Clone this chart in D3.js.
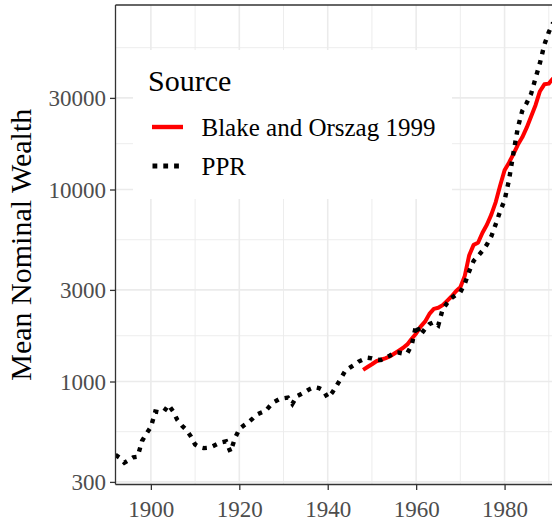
<!DOCTYPE html>
<html>
<head>
<meta charset="utf-8">
<script src="https://cdn.jsdelivr.net/npm/d3@7"></script>
<style>
  body { margin: 0; background: #ffffff; }
  svg { display: block; }
  text { font-family: "Liberation Serif", "DejaVu Serif", serif; }
</style>
</head>
<body>
<svg id="canvas"></svg>
<script>
/***********************************************************************/
// Data

var pprYears = [
  1892, 1893, 1894, 1895, 1896, 1897, 1898, 1899, 1900, 1901,
  1902, 1903, 1904, 1905, 1906, 1907, 1908, 1909, 1910, 1911,
  1912, 1913, 1914, 1915, 1916, 1917, 1918, 1919, 1920, 1921,
  1922, 1923, 1924, 1925, 1926, 1927, 1928, 1929, 1930, 1931,
  1932, 1933, 1934, 1935, 1936, 1937, 1938, 1939, 1940, 1941,
  1942, 1943, 1944, 1945, 1946, 1947, 1948, 1949, 1950, 1951,
  1952, 1953, 1954, 1955, 1956, 1957, 1958, 1959, 1960, 1961,
  1962, 1963, 1964, 1965, 1966, 1967, 1968, 1969, 1970, 1971,
  1972, 1973, 1974, 1975, 1976, 1977, 1978, 1979, 1980, 1981,
  1982, 1983, 1984, 1985, 1986, 1987, 1988, 1989, 1990, 1991
];
var pprValues = [
  415, 400, 378, 390, 403, 406, 490, 535, 580, 697,
  690, 700, 755, 700, 630, 590, 560, 520, 470, 455,
  450, 452, 460, 472, 482, 488, 430, 505, 565, 590,
  612, 640, 673, 690, 705, 750, 785, 808, 818, 825,
  764, 838, 860, 885, 915, 936, 925, 900, 823, 875,
  950, 1040, 1140, 1180, 1220, 1270, 1300, 1330, 1320, 1300,
  1295, 1330, 1360, 1410, 1415, 1400, 1405, 1550, 1970, 1750,
  1880, 1990, 2040, 1960, 2380, 2560, 2720, 2830, 2920, 3230,
  3750, 4250, 4500, 4800, 5170, 5700, 6600, 7700, 8800, 11200,
  15500, 21000, 25700, 28200, 31500, 38000, 45600, 56800, 66000, 74000
];

var boYears = [
  1948, 1949, 1950, 1951, 1952, 1953, 1954, 1955, 1956, 1957,
  1958, 1959, 1960, 1961, 1962, 1963, 1964, 1965, 1966, 1967,
  1968, 1969, 1970, 1971, 1972, 1973, 1974, 1975, 1976, 1977,
  1978, 1979, 1980, 1981, 1982, 1983, 1984, 1985, 1986, 1987,
  1988, 1989, 1990, 1991
];
var boValues = [
  1150, 1190, 1230, 1275, 1298, 1320, 1350, 1395, 1445, 1495,
  1560, 1670, 1780, 1930, 2050, 2250, 2390, 2420, 2500, 2630,
  2770, 2950, 3100, 3550, 4550, 5150, 5280, 5950, 6550, 7400,
  8600, 10500, 12600, 13800, 15300, 17100, 18700, 21000, 24000, 27500,
  32500, 35300, 35600, 38000
];

var xTicks = [1900, 1920, 1940, 1960, 1980];
var xMinor = [1910, 1930, 1950, 1970, 1990];
var yTicks = [300, 1000, 3000, 10000, 30000];
var yMinor = [548, 1732, 5477, 17321, 54772];

var seriesNames = ['Blake and Orszag 1999', 'PPR'];
var legendTitle = 'Source';
var yTitle = 'Mean Nominal Wealth';

/***********************************************************************/
// Layout

var svg_width = 552, svg_height = 522;
var panel = { left: 115.5, top: 5, bottom: 484.5, right: 593 };

var svg = d3.select('#canvas').attr('width', svg_width).attr('height', svg_height);

var xScale = d3.scaleLinear().domain([1892, 2000]).range([panel.left, panel.right]);
var yScale = d3.scaleLog().domain([290.8, 91400]).range([panel.bottom, panel.top]);

svg.append('clipPath').attr('id', 'clip')
  .append('rect')
  .attr('x', panel.left).attr('y', panel.top)
  .attr('width', panel.right - panel.left).attr('height', panel.bottom - panel.top);

/***********************************************************************/
// Grid

var grid = svg.append('g');

grid.selectAll('.xminor').data(xMinor).enter().append('line')
  .attr('x1', d => xScale(d)).attr('x2', d => xScale(d))
  .attr('y1', panel.top).attr('y2', panel.bottom)
  .attr('stroke', '#ebebeb').attr('stroke-width', 0.9);

grid.selectAll('.yminor').data(yMinor).enter().append('line')
  .attr('x1', panel.left).attr('x2', panel.right)
  .attr('y1', d => yScale(d)).attr('y2', d => yScale(d))
  .attr('stroke', '#ebebeb').attr('stroke-width', 0.9);

grid.selectAll('.xmajor').data(xTicks).enter().append('line')
  .attr('x1', d => xScale(d)).attr('x2', d => xScale(d))
  .attr('y1', panel.top).attr('y2', panel.bottom)
  .attr('stroke', '#ebebeb').attr('stroke-width', 1.6);

grid.selectAll('.ymajor').data(yTicks).enter().append('line')
  .attr('x1', panel.left).attr('x2', panel.right)
  .attr('y1', d => yScale(d)).attr('y2', d => yScale(d))
  .attr('stroke', '#ebebeb').attr('stroke-width', 1.6);

/***********************************************************************/
// Lines

var line = d3.line().x(d => xScale(d[0])).y(d => yScale(d[1]));

var boData = boYears.map((y, i) => [y, boValues[i]]);
var pprData = pprYears.map((y, i) => [y, pprValues[i]]);

var lines = svg.append('g').attr('clip-path', 'url(#clip)');

lines.append('path').datum(boData)
  .attr('d', line)
  .attr('fill', 'none').attr('stroke', '#ff0000')
  .attr('stroke-width', 4).attr('stroke-linejoin', 'round');

lines.append('path').datum(pprData)
  .attr('d', line)
  .attr('fill', 'none').attr('stroke', '#000000')
  .attr('stroke-width', 4.4).attr('stroke-dasharray', '4.4,6.2');

/***********************************************************************/
// Legend

var legend = svg.append('g');

legend.append('rect')
  .attr('x', 133).attr('y', 50).attr('width', 319).attr('height', 149)
  .attr('fill', '#ffffff');

legend.append('text')
  .attr('x', 148).attr('y', 90.5)
  .attr('font-size', 30).attr('fill', '#000')
  .text(legendTitle);

var keyY = [127, 166];

legend.append('line')
  .attr('x1', 152).attr('x2', 183).attr('y1', keyY[0]).attr('y2', keyY[0])
  .attr('stroke', '#ff0000').attr('stroke-width', 4.4);

legend.append('line')
  .attr('x1', 152.5).attr('x2', 183).attr('y1', keyY[1]).attr('y2', keyY[1])
  .attr('stroke', '#000000').attr('stroke-width', 4.8).attr('stroke-dasharray', '4.8,6');

legend.selectAll('.label').data(seriesNames).enter().append('text')
  .attr('x', 201.5).attr('y', (d, i) => keyY[i] + 9)
  .attr('font-size', 25).attr('fill', '#000')
  .text(d => d);

/***********************************************************************/
// Axes

var frame = svg.append('g');

frame.append('line')
  .attr('x1', panel.left).attr('x2', panel.right).attr('y1', panel.top).attr('y2', panel.top)
  .attr('stroke', '#333333').attr('stroke-width', 1.3);
frame.append('line')
  .attr('x1', panel.left).attr('x2', panel.right).attr('y1', panel.bottom).attr('y2', panel.bottom)
  .attr('stroke', '#333333').attr('stroke-width', 1.3);
frame.append('line')
  .attr('x1', panel.left).attr('x2', panel.left).attr('y1', panel.top).attr('y2', panel.bottom)
  .attr('stroke', '#333333').attr('stroke-width', 1.3);

var xAxis = d3.axisBottom(xScale).tickValues(xTicks).tickFormat(d3.format('d'))
  .tickSizeOuter(0).tickSizeInner(5.5).tickPadding(4);
var yAxis = d3.axisLeft(yScale).tickValues(yTicks).tickFormat(d3.format('d'))
  .tickSizeOuter(0).tickSizeInner(5.5).tickPadding(4);

var gx = svg.append('g').attr('transform', 'translate(0,' + panel.bottom + ')').call(xAxis);
var gy = svg.append('g').attr('transform', 'translate(' + panel.left + ',0)').call(yAxis);

[gx, gy].forEach(g => {
  g.select('.domain').remove();
  g.selectAll('.tick line').attr('stroke', '#333333').attr('stroke-width', 1.3);
  g.selectAll('.tick text')
    .attr('font-family', '"Liberation Serif", serif')
    .attr('font-size', 23).attr('fill', '#4d4d4d');
});
gx.selectAll('.tick text').attr('dy', '0.98em');
gy.selectAll('.tick text').attr('dy', '0.34em');

svg.append('text')
  .attr('transform', 'translate(31,' + ((panel.top + panel.bottom) / 2) + ') rotate(-90)')
  .attr('text-anchor', 'middle')
  .attr('font-size', 30).attr('fill', '#000')
  .text(yTitle);
</script>
</body>
</html>
